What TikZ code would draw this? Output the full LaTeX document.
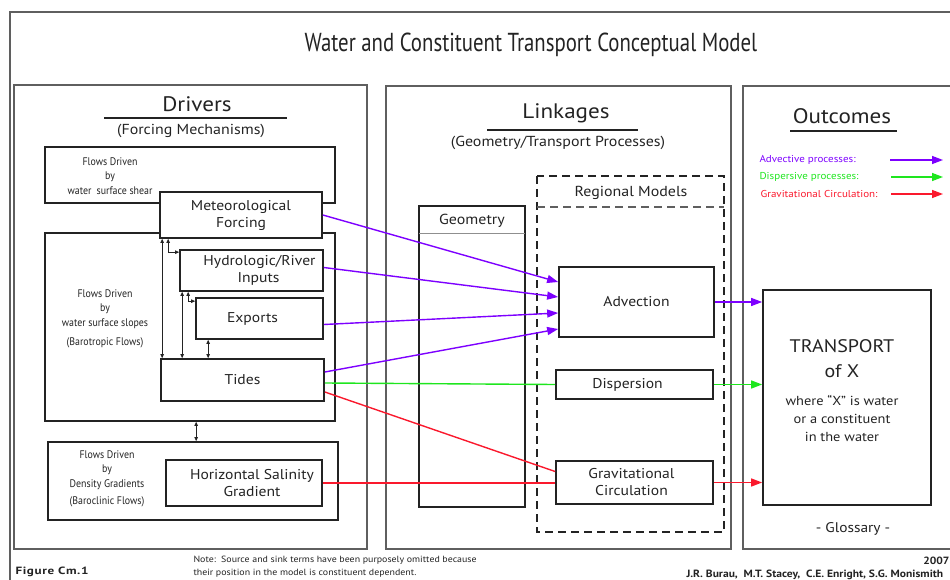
\documentclass[tikz,border=0pt]{standalone}
\usepackage{fontspec}
\setmainfont{PT Sans}[FakeStretch=1.1]
\newfontfamily\titlefont{PT Sans}[FakeStretch=0.8]
\newfontfamily\narrowfont{PT Sans}[FakeStretch=0.9]
\newfontfamily\figfont{PT Sans Bold}[FakeStretch=1.25, LetterSpace=6]
\usetikzlibrary{arrows.meta}
\definecolor{advcol}{RGB}{125,0,255}
\definecolor{dispcol}{RGB}{30,230,30}
\definecolor{gravcol}{RGB}{250,25,45}
\definecolor{framecol}{RGB}{95,95,95}
\definecolor{inkcol}{RGB}{35,35,35}
\tikzset{
  procbox/.style={draw=inkcol, line width=1.7pt, inner sep=0pt, align=center, text=inkcol, font=\fontsize{14.2}{17}\selectfont},
  panelbox/.style={draw=framecol, line width=1.2pt, inner sep=0pt},
  headlbl/.style={text=inkcol, font=\fontsize{21}{24}\selectfont},
  sublbl/.style={text=inkcol, font=\fontsize{14.5}{17}\selectfont},
  smalllbl/.style={align=center, text=inkcol, font=\narrowfont\fontsize{11}{14.5}\selectfont},
  legendlbl/.style={anchor=west, font=\fontsize{10}{12}\selectfont},
  footlbl/.style={anchor=west, text=inkcol, font=\fontsize{9}{13}\selectfont},
  advarrow/.style={advcol, line width=1.4pt, -{Triangle[length=11pt,width=8pt]}},
  disparrow/.style={dispcol, line width=1.4pt, -{Triangle[length=11pt,width=8pt]}},
  gravarrow/.style={gravcol, line width=1.4pt, -{Triangle[length=11pt,width=8pt]}},
  tinyarrow/.style={inkcol, line width=0.7pt, {Triangle[length=4pt,width=3.5pt]}-{Triangle[length=4pt,width=3.5pt]}},
}
\newcommand{\procnode}[7][procbox]{\node[#1, minimum width={(#5-#3)*1pt}, minimum height={(#6-#4)*1pt}] (#2) at ({(#3+#5)/2},{(#4+#6)/2}) {#7};}
\newcommand{\headrule}[3]{\draw[inkcol, line width=1.3pt] (#1,#3) -- (#2,#3);}
\newcommand{\bigtext}[1]{{\fontsize{18.2}{24}\selectfont #1}}

\begin{document}
\begin{tikzpicture}[x=1pt,y=-1pt]
    \useasboundingbox (0,0) rectangle (950,580);
    % frame and title
    \draw[framecol, line width=1.2pt] (10,585) -- (10,12) -- (955,12);
    \node[text=inkcol, font=\titlefont\fontsize{26}{30}\selectfont] (title) at (531,45) {Water and Constituent Transport Conceptual Model};

    % drivers
    \procnode[panelbox]{drv}{14}{85}{367}{549}{}
    \node[headlbl] (drvhead) at (197,104) {Drivers};
    \headrule{104}{287}{118}
    \node[sublbl] (drvsub) at (191,131) {(Forcing Mechanisms)};
    \procnode{shear}{45}{147}{335}{203}{}
    \procnode{slopes}{45}{233}{335}{421}{}
    \procnode{dens}{48}{442}{338}{520}{}
    \node[smalllbl] (shearlbl) at (110,176) {Flows Driven\\by\\water\ \ surface shear};
    \node[smalllbl] (slopeslbl) at (105,319) {Flows Driven\\by\\water surface slopes\\[5pt](Barotropic Flows)};
    \node[smalllbl] (denslbl) at (107,479) {Flows Driven\\by\\Density Gradients\\[3pt](Baroclinic Flows)};
    \procnode[procbox, fill=white]{met}{160}{192}{322}{238}{Meteorological\\Forcing}
    \procnode{hyd}{180}{250}{323}{291}{\hspace*{16pt}Hydrologic/River\\\hspace*{14pt}Inputs}
    \procnode{exp}{196}{298}{323}{339}{Exports\hspace*{14pt}}
    \procnode{tides}{161}{359}{324}{401}{Tides}
    \procnode{sal}{166}{460}{322}{506}{\hspace*{16pt}Horizontal Salinity\\\hspace*{16pt}Gradient}
    % small links between forcings
    \coordinate (m1) at ([xshift=3pt]met.south west);
    \coordinate (m2) at ([xshift=9pt]met.south west);
    \coordinate (h1) at ([xshift=3pt]hyd.south west);
    \coordinate (h2) at ([xshift=9pt]hyd.south west);
    \coordinate (e1) at ([xshift=13pt]exp.south west);
    \coordinate (s1) at ([xshift=152pt]slopes.south west);
    \draw[tinyarrow] (m1) -- (m1 |- tides.north);
    \draw[tinyarrow] (m2) |- ([yshift=-3pt]hyd.north west);
    \draw[tinyarrow] (h1) -- (h1 |- tides.north);
    \draw[tinyarrow] (h2) |- ([yshift=-4pt]exp.north west);
    \draw[tinyarrow] (e1) -- (e1 |- tides.north);
    \draw[tinyarrow] (s1) -- (s1 |- dens.north);

    % linkages
    \procnode[panelbox]{lnk}{386}{86}{731}{549}{}
    \node[headlbl] (lnkhead) at (566,113) {Linkages};
    \headrule{487}{638}{130}
    \node[sublbl] (lnksub) at (558,143) {(Geometry/Transport Processes)};
    \draw[inkcol, line width=1.2pt, dash pattern=on 8pt off 5pt] (537,176) rectangle (724,532);
    \draw[framecol, line width=1.2pt, dash pattern=on 8pt off 5pt] (537,207) -- (724,207);
    \node[sublbl] (reglbl) at (631,193) {Regional Models};
    \procnode{geo}{419}{206}{525}{507}{}
    \draw[framecol!70, line width=1pt] (419,233) -- (525,233);
    \node[sublbl] (geolbl) at (472,221) {Geometry};
    \procnode{adv}{559}{267}{714}{337}{Advection}
    \procnode{disp}{556}{370}{713}{399}{Dispersion\hspace*{14pt}}
    \procnode{grav}{556}{461}{713}{504}{Gravitational\hspace*{6pt}\\Circulation\hspace*{6pt}}

    % outcomes
    \procnode[panelbox]{out}{743}{86}{958}{549}{}
    \node[headlbl] (outhead) at (842,116) {Outcomes};
    \headrule{790}{897}{131}
    \node[legendlbl, text=advcol] (advlbl) at (756,160) {Advective processes:};
    \node[legendlbl, text=dispcol] (displbl) at (756,177) {Dispersive processes:};
    \node[legendlbl, text=gravcol] (gravlbl) at (757,194) {Gravitational Circulation:};
    \coordinate (la) at (890,160);
    \coordinate (lb) at (891,177);
    \coordinate (lc) at (891,194);
    \draw[advarrow] (la) -- ++(53,0);
    \draw[disparrow] (lb) -- ++(52,0);
    \draw[gravarrow] (lc) -- ++(52,0);
    \procnode{tr}{763}{290}{931}{505}{}
    \node[align=center, text=inkcol, font=\fontsize{13.1}{18}\selectfont] (trlbl) at (842,391) {\bigtext{TRANSPORT}\\[7pt]\bigtext{of X}\\[10pt]where ``X'' is water\\or a constituent\\in the water};
    \node[sublbl, font=\fontsize{14}{17}\selectfont] (gloss) at (853,529) {- Glossary -};

    % advective links
    \draw[advarrow] (met.east) -- ([yshift=20pt]adv.west);
    \draw[advarrow] ([yshift=3pt]hyd.east) -- ([yshift=5pt]adv.west);
    \draw[advarrow] ([yshift=-6pt]exp.east) -- ([yshift=-11pt]adv.west);
    \draw[advarrow] ([yshift=8pt]tides.east) -- ([yshift=-27pt]adv.west);
    \draw[advarrow] (adv.east) -- (adv.east -| tr.west);
    % dispersive links
    \draw[dispcol, line width=1.4pt] ([yshift=-3pt]tides.east) -- (disp.west);
    \draw[disparrow] (disp.east) -- (disp.east -| tr.west);
    % gravitational links
    \draw[gravcol, line width=1.4pt] ([yshift=-12pt]tides.east) -- ([yshift=11pt]grav.west);
    \draw[gravcol, line width=1.4pt] (sal.east) -- (sal.east -| grav.west);
    \draw[gravarrow] (grav.east) -- (grav.east -| tr.west);

    % footer
    \node[footlbl, font=\figfont\fontsize{10.5}{12}\selectfont] (fig) at (12,572) {Figure Cm.1};
    \node[footlbl, align=left] (note) at (190,567) {Note:\ \ Source and sink terms have been purposely omitted because\\their position in the model is constituent dependent.};
    \node[anchor=east, text=inkcol, font=\bfseries\fontsize{10.5}{12}\selectfont] (year) at (953,561) {2007};
    \node[anchor=west, text=inkcol, font=\bfseries\fontsize{10.5}{12}\selectfont] (auth) at (683,575) {J.R. Burau,\ \ M.T. Stacey,\ \ C.E. Enright, S.G. Monismith};
\end{tikzpicture}
\end{document}
